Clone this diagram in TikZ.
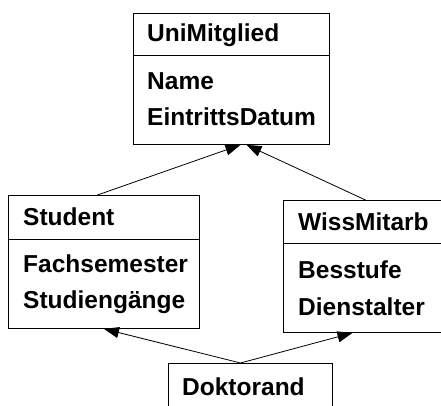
\documentclass[tikz,border=0pt]{standalone}
\usepackage{fontspec}
\setmainfont{Liberation Sans}
\usetikzlibrary{arrows.meta}
\begin{document}
\begin{tikzpicture}[x=1pt,y=-1pt,
  classbox/.style={draw, line width=0.9pt, inner sep=0pt, anchor=north west},
  lbl/.style={anchor=base west, inner sep=0pt, font=\fontsize{24.5}{29}\selectfont\bfseries},
  gen/.style={line width=0.8pt, -{Triangle[length=15pt,width=11pt]}}]
\useasboundingbox (0,0) rectangle (441,406);
\clip (0,0) rectangle (441,406);
% UniMitglied
\node[classbox, minimum width=196pt, minimum height=131pt] (uni) at (133,13) {};
\draw[line width=0.9pt] (uni.west |- 0,55) -- (uni.east |- 0,55);
\node[lbl] (unit) at (147,42) {UniMitglied};
\node[lbl] (unia) at (147,90) {Name};
\node[lbl] (unib) at (147,126) {EintrittsDatum};
% Student
\node[classbox, minimum width=191pt, minimum height=133pt] (stud) at (8,195) {};
\draw[line width=0.9pt] (stud.west |- 0,239) -- (stud.east |- 0,239);
\node[lbl] (studt) at (23,225) {Student};
\node[lbl] (studa) at (23,272) {Fachsemester};
\node[lbl] (studb) at (23,308) {Studiengänge};
% WissMitarb
\node[classbox, minimum width=162pt, minimum height=132pt] (wiss) at (283,200) {};
\draw[line width=0.9pt] (wiss.west |- 0,243) -- (wiss.east |- 0,243);
\node[lbl] (wisst) at (298,230) {WissMitarb};
\node[lbl] (wissa) at (298,278) {Besstufe};
\node[lbl] (wissb) at (298,315) {Dienstalter};
% Doktorand
\node[classbox, minimum width=164pt, minimum height=60pt] (dok) at (168,363) {};
\node[lbl] (dokt) at (182,395) {Doktorand};
% generalisations
\draw[gen] ([xshift=-6.5pt]stud.north) -- ([xshift=9pt]uni.south);
\draw[gen] ([xshift=1pt]wiss.north) -- ([xshift=15pt]uni.south);
\draw[gen] ([xshift=-10pt]dok.north) -- ([xshift=0pt]stud.south);
\draw[gen] ([xshift=-10pt]dok.north) -- ([xshift=-12pt]wiss.south);
\end{tikzpicture}
\end{document}
